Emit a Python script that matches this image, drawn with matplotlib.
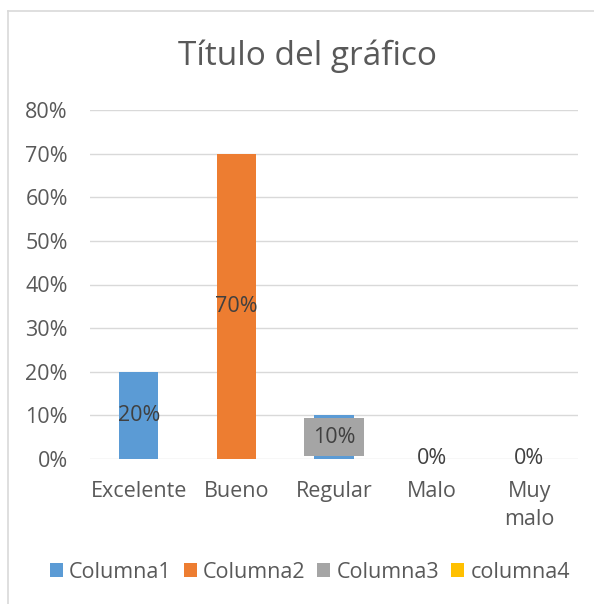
import matplotlib
matplotlib.use("Agg")
import matplotlib.pyplot as plt
from matplotlib.patches import Patch
from matplotlib.lines import Line2D
from matplotlib.ticker import PercentFormatter

categories = ["Excelente", "Bueno", "Regular", "Malo", "Muy\nmalo"]
values = [0.20, 0.70, 0.10, 0.0, 0.0]
bar_series = ["Columna1", "Columna2", "Columna1", "Columna1", "Columna1"]
label_box = [None, None, "Columna3", None, None]

series_names = ["Columna1", "Columna2", "Columna3", "columna4"]
series_colors = ["#5B9BD5", "#ED7D31", "#A5A5A5", "#FFC000"]
color_of = dict(zip([s.lower() for s in series_names], series_colors))

yticks = [0, 0.1, 0.2, 0.3, 0.4, 0.5, 0.6, 0.7, 0.8]

plt.rcParams["font.family"] = ["Open Sans", "DejaVu Sans"]
FS = 15.5

W, H = 594, 604
fig = plt.figure(figsize=(W / 100, H / 100), dpi=100)
ax = fig.add_axes([90 / W, 1 - 459 / H, 488 / W, 349 / H])

x = list(range(len(categories)))
colors = [color_of[s.lower()] for s in bar_series]
ax.bar(x, values, width=0.4, color=colors, zorder=2)

for xi, v, box in zip(x, values, label_box):
    kw = {}
    if box:
        kw["bbox"] = dict(boxstyle="square,pad=0.4", fc=color_of[box.lower()], ec="none")
    ax.text(xi, v / 2, f"{v:.0%}", ha="center", va="center",
            fontsize=FS, color="#404040", zorder=3, **kw)

ax.set_xlim(-0.5, len(categories) - 0.5)
ax.set_ylim(0, 0.8)
ax.set_yticks(yticks)
ax.yaxis.set_major_formatter(PercentFormatter(1.0, decimals=0))
ax.set_xticks(x)
ax.set_xticklabels(categories, linespacing=1.45)
ax.grid(axis="y", color="#D9D9D9", linewidth=1, zorder=0)
ax.tick_params(axis="both", length=0, labelsize=FS, colors="#595959")
ax.tick_params(axis="y", pad=16)
ax.tick_params(axis="x", pad=16)
for sp in ax.spines.values():
    sp.set_visible(False)

fig.text(307 / W, 1 - 56 / H, "Título del gráfico", ha="center", va="center",
         fontsize=24, color="#595959")

handles = [Patch(facecolor=c, edgecolor="none") for c in series_colors]
fig.legend(handles, series_names, loc="center", ncol=4,
           bbox_to_anchor=(310 / W, 1 - 572 / H), frameon=False,
           fontsize=FS, labelcolor="#595959", handlelength=0.6,
           handleheight=0.6, handletextpad=0.3, columnspacing=0.55)

# chart area border (only left and top visible in the crop)
fig.add_artist(Line2D([8 / W, 8 / W], [0, 1 - 11 / H], color="#D9D9D9", lw=1.2))
fig.add_artist(Line2D([8 / W, 1], [1 - 11 / H, 1 - 11 / H], color="#D9D9D9", lw=1.2))

fig.savefig("out.png", dpi=100)
